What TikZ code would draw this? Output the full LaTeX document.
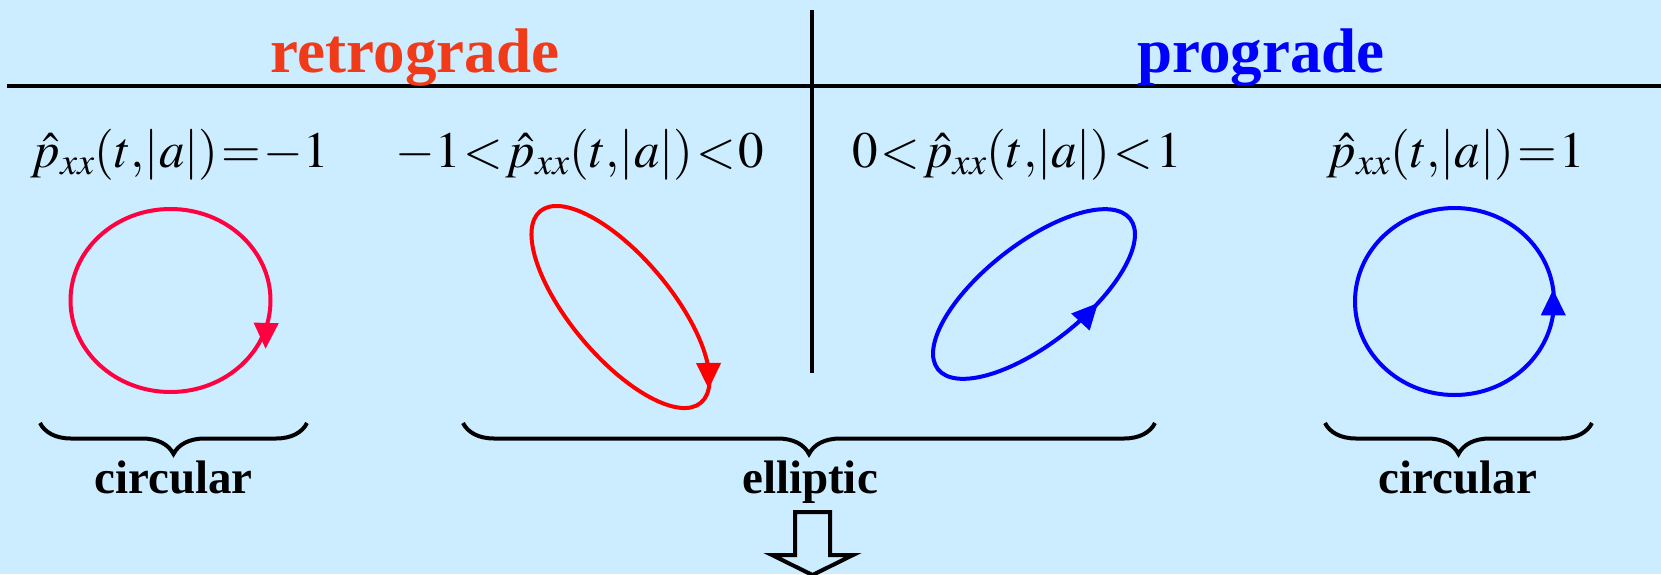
\documentclass[tikz,border=0pt]{standalone}
\usepackage{mathptmx}
\usepackage{fontspec}
\setmainfont{Liberation Serif}
\usetikzlibrary{arrows.meta,decorations.pathreplacing,decorations.markings}
\definecolor{sky}{HTML}{CCECFF}
\definecolor{retro}{HTML}{F03A1A}
\definecolor{retroline}{HTML}{FF0040}
\definecolor{proline}{HTML}{0000FF}
\newcommand{\pcorr}{\hat{p}_{xx}(t{,}|a|)}

\begin{document}
\begin{tikzpicture}[x=1pt,y=1pt,
  rule/.style={line width=4.5pt},
  orbit/.style={line width=4pt},
  % arrow head on an orbit: position, turn, offset
  tipat/.style n args={3}{postaction={decorate},decoration={markings,
    mark=at position #1 with {\pgftransformshift{#3}\pgftransformrotate{#2}%
      \arrow{Triangle[length=26pt,width=24pt]}}}},
  curly/.style={decorate,decoration={brace,mirror,amplitude=31pt},line width=4pt},
  head/.style={anchor=base,font=\fontsize{63}{70}\selectfont\bfseries},
  cond/.style={anchor=base,font=\fontsize{51}{56}\selectfont},
  lbl/.style={anchor=base,font=\fontsize{47}{52}\selectfont\bfseries}]
  \useasboundingbox[fill=sky] (0,0) rectangle (1661,-574);

  % table rules
  \draw[rule] (7,-86) -- (1661,-86);
  \draw[rule] (812,-10) -- (812,-373);

  \node[head,text=retro] (retro) at (415,-72) {retrograde};
  \node[head,text=proline] (pro) at (1261,-72) {prograde};

  \node[cond] (f1) at (180,-167) {$\thickmuskip=1mu \pcorr=-1$};
  \node[cond] (f2) at (580,-167) {$\thickmuskip=1mu -1<\pcorr<0$};
  \node[cond] (f3) at (1017,-167) {$\thickmuskip=1mu 0<\pcorr<1$};
  \node[cond] (f4) at (1456,-167) {$\thickmuskip=1mu \pcorr=1$};

  % polarisation orbits: retrograde ones run clockwise
  \coordinate (o1) at (170.5,-300.5);
  \coordinate (o2) at (620.5,-307);
  \coordinate (o3) at (1034,-294);
  \coordinate (o4) at (1454.5,-301.5);
  \begin{scope}[shift={(o1)}]
    \draw[retroline,orbit,tipat={0.085}{32.8}{\pgfpoint{-5.4pt}{8.4pt}}] (0:100 and 91.5)
      arc[start angle=0,end angle=-360,x radius=100,y radius=91.5];
  \end{scope}
  \begin{scope}[shift={(o2)},rotate=-50]
    \draw[red,orbit,tipat={0.972}{12.4}{\pgfpointorigin}] (0:125 and 50)
      arc[start angle=0,end angle=-360,x radius=125,y radius=50];
  \end{scope}
  \draw[proline,orbit,tipat={0.83}{0}{\pgfpointorigin},rotate around={38:(o3)}]
    (o3) ellipse[x radius=122,y radius=50];
  \draw[proline,orbit,tipat={0.02}{-7.7}{\pgfpointorigin}]
    (o4) ellipse[x radius=99.5,y radius=93.5];

  % braces
  \coordinate (b1l) at (40,-423);   \coordinate (b1r) at (307,-423);
  \coordinate (b2l) at (463,-423);  \coordinate (b2r) at (1155,-423);
  \coordinate (b3l) at (1325,-423); \coordinate (b3r) at (1592,-423);
  \draw[curly] (b1l) -- (b1r);
  \draw[curly] (b2l) -- (b2r);
  \draw[curly] (b3l) -- (b3r);

  \node[lbl] (circ1) at (173.5,-493) {circular};
  \node[lbl] (ell) at (810,-493) {elliptic};
  \node[lbl] (circ2) at (1458,-493) {circular};

  \draw[line width=4pt,fill=sky] (795,-512) -- (830,-512) -- (830,-555) -- (853,-555)
    -- (812.5,-575) -- (772,-555) -- (795,-555) -- cycle;
\end{tikzpicture}
\end{document}
